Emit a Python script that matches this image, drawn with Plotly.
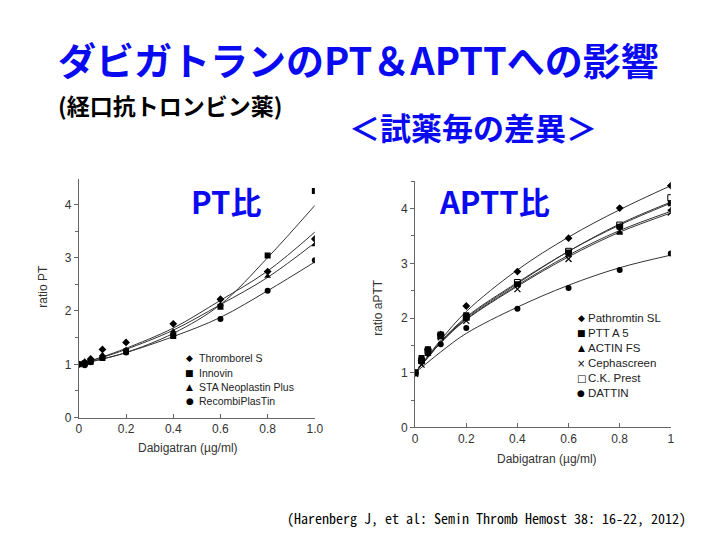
import plotly.graph_objects as go

# ---------------- data ----------------
pt_x = [0, 0.025, 0.05, 0.1, 0.2, 0.4, 0.6, 0.8, 1.0]
pt_names = ["Thromborel S", "Innovin", "STA Neoplastin Plus", "RecombiPlasTin"]
pt_thromborel = [1.0, 1.04, 1.10, 1.28, 1.41, 1.76, 2.22, 2.74, 3.35]
pt_innovin = [1.0, 1.02, 1.05, 1.12, 1.24, 1.53, 2.08, 3.04, 4.25]
pt_sta = [1.0, 1.02, 1.07, 1.18, 1.28, 1.62, 2.12, 2.65, 3.24]
pt_recombi = [1.0, 0.98, 1.04, 1.12, 1.22, 1.55, 1.85, 2.38, 2.95]

fit_x = [0, 0.1, 0.2, 0.4, 0.6, 0.8, 1.0]
pt_fit_thromborel = [1.0, 1.14, 1.30, 1.68, 2.20, 2.75, 3.48]
pt_fit_innovin = [1.0, 1.10, 1.22, 1.58, 2.12, 3.00, 3.98]
pt_fit_sta = [1.0, 1.13, 1.28, 1.64, 2.12, 2.63, 3.28]
pt_fit_recombi = [1.0, 1.10, 1.22, 1.52, 1.88, 2.38, 2.92]

aptt_x = [0, 0.025, 0.05, 0.1, 0.2, 0.4, 0.6, 0.8, 1.0]
aptt_names = ["Pathromtin SL", "PTT A 5", "ACTIN FS", "Cephascreen", "C.K. Prest", "DATTIN"]
aptt_pathromtin = [1.0, 1.22, 1.42, 1.70, 2.22, 2.85, 3.46, 4.01, 4.42]
aptt_ptta5 = [1.0, 1.27, 1.43, 1.70, 2.05, 2.62, 3.20, 3.67, 4.10]
aptt_actin = [1.0, 1.20, 1.35, 1.65, 1.98, 2.60, 3.15, 3.55, 3.98]
aptt_cephascreen = [0.98, 1.15, 1.37, 1.65, 1.95, 2.53, 3.08, 3.60, 3.93]
aptt_ckprest = [1.0, 1.22, 1.40, 1.68, 2.02, 2.65, 3.22, 3.70, 4.20]
aptt_dattin = [1.0, 1.20, 1.35, 1.52, 1.82, 2.17, 2.55, 2.88, 3.18]

aptt_fit_pathromtin = [1.0, 1.60, 2.12, 2.88, 3.48, 3.98, 4.42]
aptt_fit_ptta5 = [1.0, 1.55, 2.00, 2.63, 3.22, 3.70, 4.10]
aptt_fit_actin = [1.0, 1.55, 1.98, 2.60, 3.15, 3.60, 3.95]
aptt_fit_cephascreen = [1.0, 1.55, 1.97, 2.58, 3.12, 3.57, 3.92]
aptt_fit_ckprest = [1.0, 1.57, 2.02, 2.65, 3.22, 3.72, 4.12]
aptt_fit_dattin = [1.0, 1.38, 1.72, 2.20, 2.60, 2.92, 3.15]

pt_xticks = [0, 0.2, 0.4, 0.6, 0.8, 1.0]
pt_xticklabels = ["0", "0.2", "0.4", "0.6", "0.8", "1.0"]
aptt_xticklabels = ["0", "0.2", "0.4", "0.6", "0.8", "1"]
yticks = [0, 1, 2, 3, 4]

pt_legend_glyphs = ["◆", "■", "▲", "●"]
aptt_legend_glyphs = ["◆", "■", "▲", "×", "□", "●"]

# ---------------- figure ----------------
fig = go.Figure()
BLUE = "#0a0af0"
LINE = "#333333"
AX = "#666666"
TXT = "#333333"
SANS = "Liberation Sans, Arial"

pt_series = [pt_thromborel, pt_innovin, pt_sta, pt_recombi]
pt_fits = [pt_fit_thromborel, pt_fit_innovin, pt_fit_sta, pt_fit_recombi]
pt_symbols = ["diamond", "square", "triangle-up", "circle"]

for f in pt_fits:
    fig.add_trace(go.Scatter(x=fit_x, y=f, mode="lines", line=dict(color=LINE, width=1, shape="spline"),
                             showlegend=False, xaxis="x", yaxis="y", hoverinfo="skip"))
for name, s, sym in zip(pt_names, pt_series, pt_symbols):
    fig.add_trace(go.Scatter(x=pt_x, y=s, mode="markers", name=name, showlegend=False,
                             marker=dict(symbol=sym, size=6, color="black"),
                             xaxis="x", yaxis="y"))

aptt_series = [aptt_pathromtin, aptt_ptta5, aptt_actin, aptt_cephascreen, aptt_ckprest, aptt_dattin]
aptt_fits = [aptt_fit_pathromtin, aptt_fit_ptta5, aptt_fit_actin, aptt_fit_cephascreen, aptt_fit_ckprest, aptt_fit_dattin]
aptt_symbols = ["diamond", "square", "triangle-up", "x-thin", "square-open", "circle"]

for f in aptt_fits:
    fig.add_trace(go.Scatter(x=fit_x, y=f, mode="lines", line=dict(color=LINE, width=1, shape="spline"),
                             showlegend=False, xaxis="x2", yaxis="y2", hoverinfo="skip"))
for name, s, sym in zip(aptt_names, aptt_series, aptt_symbols):
    mk = dict(symbol=sym, size=6, color="black")
    if sym == "x-thin":
        mk["line"] = dict(color="black", width=1.2)
    if sym == "square-open":
        mk["line"] = dict(color="black", width=1)
    fig.add_trace(go.Scatter(x=aptt_x, y=s, mode="markers", name=name, marker=mk, showlegend=False,
                             xaxis="x2", yaxis="y2"))

axis_common = dict(showline=True, linecolor=AX, linewidth=1, showgrid=False, zeroline=False,
                   tickfont=dict(family=SANS, size=12, color=TXT),
                   tickcolor=AX, ticklen=4)

fig.update_layout(
    width=720, height=540,
    margin=dict(l=0, r=0, t=0, b=0),
    paper_bgcolor="white", plot_bgcolor="white",
    showlegend=False,
    xaxis=dict(domain=[69/720, 309/720], range=[0, 1.0], tickvals=pt_xticks, ticktext=pt_xticklabels,
               ticks="inside", anchor="y", **axis_common),
    yaxis=dict(domain=[(540-415)/540, (540-173)/540], range=[0, 4.48], tickvals=yticks,
               ticks="outside", anchor="x", minor=dict(dtick=0.5, ticks="outside", ticklen=3, tickcolor=AX),
               **axis_common),
    xaxis2=dict(domain=[411/720, 671/720], range=[0, 1.0], tickvals=pt_xticks, ticktext=aptt_xticklabels,
                ticks="inside", anchor="y2", **axis_common),
    yaxis2=dict(domain=[(540-425)/540, (540-175)/540], range=[0, 4.51], tickvals=yticks,
                ticks="outside", anchor="x2", minor=dict(dtick=0.5, ticks="outside", ticklen=3, tickcolor=AX),
                **axis_common),
)

ann = []
CJK = "Noto Sans CJK JP"
ann.append(dict(text="<b>ダビガトランのPT＆APTTへの影響</b>", x=46/720, y=(540-51)/540, xanchor="left", yanchor="middle",
                font=dict(family=CJK, size=38, color=BLUE)))
ann.append(dict(text="<b>(経口抗トロンビン薬)</b>", x=46/720, y=(540-98)/540, xanchor="left", yanchor="middle",
                font=dict(family=CJK, size=23, color="black")))
ann.append(dict(text="<b>＜試薬毎の差異＞</b>", x=342/720, y=(540-120)/540, xanchor="left", yanchor="middle",
                font=dict(family=CJK, size=31, color=BLUE)))
ann.append(dict(text="<b>PT比</b>", x=181/720, y=(540-195)/540, xanchor="left", yanchor="middle",
                font=dict(family=CJK, size=31, color=BLUE)))
ann.append(dict(text="<b>APTT比</b>", x=433/720, y=(540-195)/540, xanchor="left", yanchor="middle",
                font=dict(family=CJK, size=31, color=BLUE)))
ann.append(dict(text="(Harenberg J, et al: Semin Thromb Hemost 38: 16-22, 2012)", x=688/720, y=(540-517)/540,
                xanchor="right", yanchor="middle",
                font=dict(family="Noto Sans Mono CJK JP, Liberation Mono", size=14, color="black")))
# axis titles
ann.append(dict(text="ratio PT", x=33/720, y=(540-282)/540, textangle=-90, xanchor="center", yanchor="middle",
                font=dict(family=SANS, size=12, color=TXT)))
ann.append(dict(text="Dabigatran (µg/ml)", x=180/720, y=(540-446)/540, xanchor="center", yanchor="middle",
                font=dict(family=SANS, size=12, color=TXT)))
ann.append(dict(text="ratio aPTT", x=373/720, y=(540-303)/540, textangle=-90, xanchor="center", yanchor="middle",
                font=dict(family=SANS, size=12, color=TXT)))
ann.append(dict(text="Dabigatran (µg/ml)", x=545/720, y=(540-457)/540, xanchor="center", yanchor="middle",
                font=dict(family=SANS, size=12, color=TXT)))

# legends (text-based, compact spacing as in the reference)
pt_leg_y = [355, 369.5, 384, 398.5]
for g, name, yy in zip(pt_legend_glyphs, pt_names, pt_leg_y):
    ann.append(dict(text=g, x=182/720, y=(540-yy)/540, xanchor="center", yanchor="middle",
                    font=dict(family="DejaVu Sans", size=9, color="black")))
    ann.append(dict(text=name, x=189/720, y=(540-yy)/540, xanchor="left", yanchor="middle",
                    font=dict(family=SANS, size=10.5, color="#222")))
aptt_leg_y = [314, 329, 344, 360, 375, 390]
for g, name, yy in zip(aptt_legend_glyphs, aptt_names, aptt_leg_y):
    ann.append(dict(text=g, x=580/720, y=(540-yy)/540, xanchor="center", yanchor="middle",
                    font=dict(family="DejaVu Sans", size=10 if g in ("×", "□") else 9, color="black")))
    ann.append(dict(text=name, x=585/720, y=(540-yy)/540, xanchor="left", yanchor="middle",
                    font=dict(family=SANS, size=11.5, color="#222")))

for a in ann:
    a.update(xref="paper", yref="paper", showarrow=False)
fig.update_layout(annotations=ann)

fig.write_html("out.html")
